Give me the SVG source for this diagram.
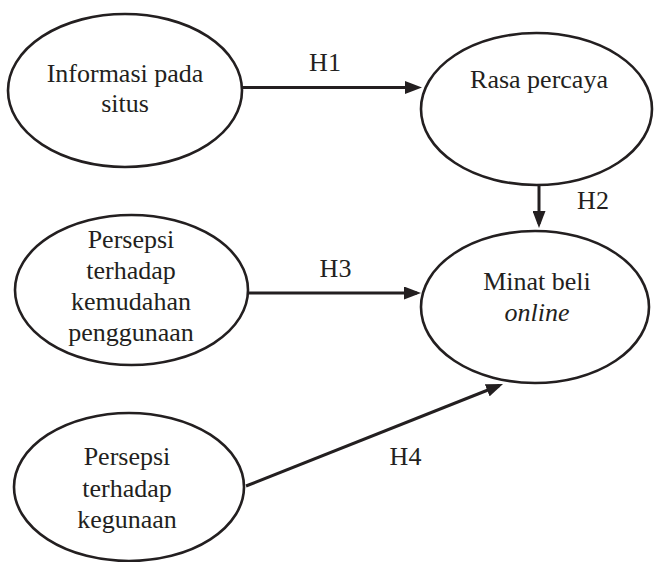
<svg xmlns="http://www.w3.org/2000/svg" width="654" height="562" viewBox="0 0 654 562">
  <defs>
    <marker id="arrow" viewBox="0 0 17 13" refX="13" refY="6.5" markerWidth="17" markerHeight="13" markerUnits="userSpaceOnUse" orient="auto">
      <path d="M0,0 L17,6.5 L0,13 z" fill="#231f20"/>
    </marker>
    <style>
      .node ellipse { fill: #ffffff; stroke: #231f20; stroke-width: 2.6; }
      .lbl { font-family: Liberation Serif, serif; font-size: 26px; fill: #231f20; text-anchor: middle; }
      .edge { stroke: #231f20; stroke-width: 3; fill: none; marker-end: url(#arrow); }
      .it { font-style: italic; }
    </style>
  </defs>

  <rect width="654" height="562" fill="#ffffff"/>

  <!-- nodes -->
  <g id="informasi" class="node">
    <ellipse cx="125" cy="90.5" rx="117" ry="76.5"/>
    <text class="lbl" x="125" y="82">Informasi pada</text>
    <text class="lbl" x="125" y="112">situs</text>
  </g>

  <g id="rasa-percaya" class="node">
    <ellipse cx="536.5" cy="109" rx="115.5" ry="76"/>
    <text class="lbl" x="539" y="88">Rasa percaya</text>
  </g>

  <g id="persepsi-kemudahan" class="node">
    <ellipse cx="131.5" cy="290" rx="116.5" ry="75"/>
    <text class="lbl" x="131" y="248">Persepsi</text>
    <text class="lbl" x="131" y="279">terhadap</text>
    <text class="lbl" x="131" y="310">kemudahan</text>
    <text class="lbl" x="131" y="341">penggunaan</text>
  </g>

  <g id="minat-beli" class="node">
    <ellipse cx="535" cy="307" rx="114" ry="76"/>
    <text class="lbl" x="537" y="290">Minat beli</text>
    <text class="lbl it" x="537" y="321">online</text>
  </g>

  <g id="persepsi-kegunaan" class="node">
    <ellipse cx="129" cy="487" rx="115" ry="74"/>
    <text class="lbl" x="127" y="465">Persepsi</text>
    <text class="lbl" x="127" y="497">terhadap</text>
    <text class="lbl" x="127" y="528">kegunaan</text>
  </g>

  <!-- connectors -->
  <g id="connectors">
    <line class="edge" x1="242" y1="87.5" x2="418" y2="87.5"/>
    <line class="edge" x1="539" y1="185" x2="539" y2="224"/>
    <line class="edge" x1="248" y1="293" x2="417" y2="293"/>
    <line class="edge" x1="246" y1="486" x2="499.3" y2="385.5"/>
    <text class="lbl" x="325" y="71">H1</text>
    <text class="lbl" x="593" y="209">H2</text>
    <text class="lbl" x="335.5" y="277">H3</text>
    <text class="lbl" x="405.5" y="465">H4</text>
  </g>
</svg>
